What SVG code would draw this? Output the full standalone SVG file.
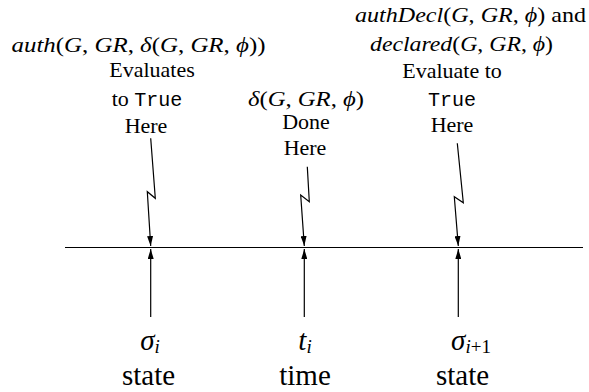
<svg xmlns="http://www.w3.org/2000/svg" width="589" height="392" viewBox="0 0 589 392">
<style>
text{font-family:'Liberation Serif','Times New Roman',serif;font-size:22px;fill:#000;text-anchor:middle}
.mi{font-style:italic}
.tt{font-family:'Liberation Mono','Courier New',monospace;font-size:20px}
.big{font-size:29px}
.sub{font-size:19px;font-style:italic}
.subr{font-size:19px}
.ln{fill:none;stroke:#000;stroke-width:1.2}
</style>
<defs>
<marker id="ah" markerUnits="userSpaceOnUse" markerWidth="10" markerHeight="6" refX="10" refY="3" orient="auto">
<path d="M0,0 L10,3 L0,6 z" fill="#000"/>
</marker>
</defs>
<g id="connectors">
<line class="ln" x1="65" y1="247.5" x2="583" y2="247.5"/>
<path class="ln" d="M150.7,138.3 L155.3,198.3 L147.3,191.7 L150.7,246" marker-end="url(#ah)"/>
<path class="ln" d="M307.3,166.7 L309.3,201.7 L300.7,195 L304.3,246" marker-end="url(#ah)"/>
<path class="ln" d="M457.3,143.3 L463.3,202.7 L454.3,196.7 L458.3,246" marker-end="url(#ah)"/>
<path class="ln" d="M150.7,317 L150.7,249" marker-end="url(#ah)"/>
<path class="ln" d="M304.3,317 L304.3,249" marker-end="url(#ah)"/>
<path class="ln" d="M458.3,317 L458.3,249" marker-end="url(#ah)"/>
</g>
<g id="node-auth">
<text x="138.5" y="52" textLength="254" lengthAdjust="spacingAndGlyphs"><tspan class="mi">auth</tspan>(<tspan class="mi">G</tspan>, <tspan class="mi">GR</tspan>, <tspan class="mi">δ</tspan>(<tspan class="mi">G</tspan>, <tspan class="mi">GR</tspan>, <tspan class="mi">ϕ</tspan>))</text>
<text x="152" y="77">Evaluates</text>
<text x="147" y="106">to <tspan class="tt">True</tspan></text>
<text x="146" y="133">Here</text>
</g>
<g id="node-delta">
<text x="306" y="106" textLength="116" lengthAdjust="spacingAndGlyphs"><tspan class="mi">δ</tspan>(<tspan class="mi">G</tspan>, <tspan class="mi">GR</tspan>, <tspan class="mi">ϕ</tspan>)</text>
<text x="306" y="129">Done</text>
<text x="305" y="155">Here</text>
</g>
<g id="node-decl">
<text x="470.5" y="22" textLength="231" lengthAdjust="spacingAndGlyphs"><tspan class="mi">authDecl</tspan>(<tspan class="mi">G</tspan>, <tspan class="mi">GR</tspan>, <tspan class="mi">ϕ</tspan>) and</text>
<text x="461.5" y="51" textLength="183" lengthAdjust="spacingAndGlyphs"><tspan class="mi">declared</tspan>(<tspan class="mi">G</tspan>, <tspan class="mi">GR</tspan>, <tspan class="mi">ϕ</tspan>)</text>
<text x="452" y="78">Evaluate to</text>
<text x="452" y="106" class="tt">True</text>
<text x="452" y="132">Here</text>
</g>
<g id="node-sigma-i">
<text x="150" y="350" class="big"><tspan class="mi">σ</tspan><tspan class="sub" dy="3">i</tspan></text>
<text x="148.5" y="385" class="big">state</text>
</g>
<g id="node-t-i">
<text x="305" y="350" class="big"><tspan class="mi">t</tspan><tspan class="sub" dy="3">i</tspan></text>
<text x="305" y="385" class="big">time</text>
</g>
<g id="node-sigma-i1">
<text x="471" y="350" class="big"><tspan class="mi">σ</tspan><tspan class="sub" dy="3">i</tspan><tspan class="subr">+1</tspan></text>
<text x="462.5" y="385" class="big">state</text>
</g>
</svg>
